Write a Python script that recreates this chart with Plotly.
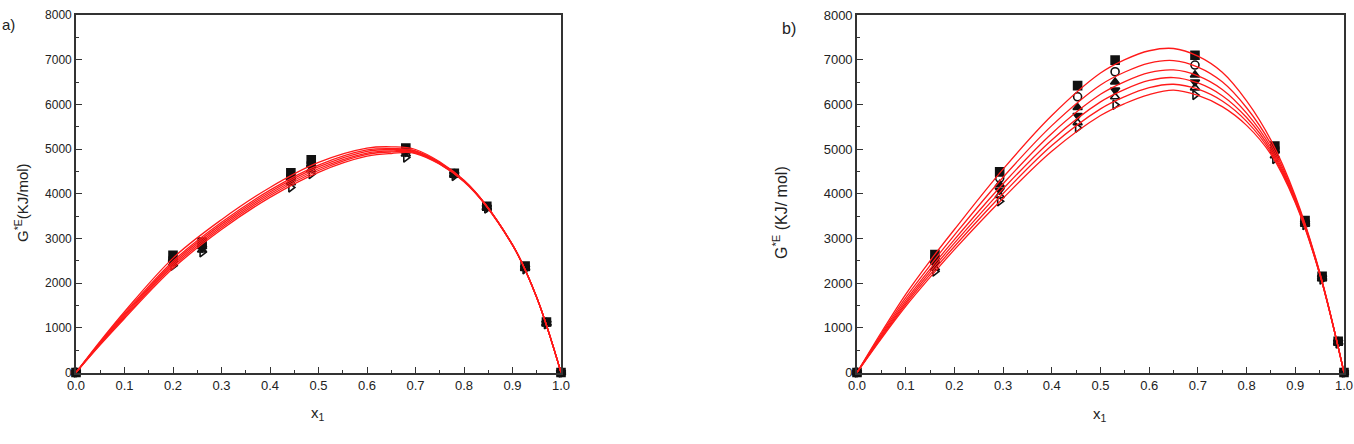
import plotly.graph_objects as go

# ---------------- data: panel a ----------------
a_pts_x = [0, 0.2, 0.26, 0.443, 0.485, 0.68, 0.78, 0.847, 0.926, 0.97, 1.0]
a_s1 = [0, 2620, 2920, 4470, 4760, 5020, 4460, 3720, 2380, 1130, 0]
a_s2 = [0, 2560, 2860, 4400, 4690, 4990, 4450, 3710, 2360, 1120, 0]
a_s3 = [0, 2520, 2820, 4350, 4640, 4960, 4440, 3700, 2350, 1110, 0]
a_s4 = [0, 2480, 2780, 4300, 4590, 4930, 4430, 3690, 2340, 1100, 0]
a_s5 = [0, 2440, 2740, 4250, 4540, 4890, 4420, 3680, 2330, 1090, 0]
a_s6 = [0, 2390, 2690, 4140, 4440, 4810, 4400, 3670, 2310, 1080, 0]

a_fit_x = [0, 0.05, 0.1, 0.2, 0.3, 0.4, 0.5, 0.6, 0.65, 0.7, 0.8, 0.9, 0.95, 1.0]
a_f1 = [0, 700, 1360, 2560, 3420, 4140, 4700, 5020, 5050, 4990, 4300, 2860, 1680, 0]
a_f2 = [0, 680, 1320, 2490, 3360, 4080, 4640, 4980, 5010, 4960, 4295, 2858, 1679, 0]
a_f3 = [0, 665, 1290, 2450, 3320, 4040, 4600, 4950, 4990, 4950, 4290, 2856, 1678, 0]
a_f4 = [0, 650, 1265, 2410, 3280, 4000, 4560, 4910, 4960, 4930, 4284, 2854, 1677, 0]
a_f5 = [0, 635, 1235, 2370, 3240, 3960, 4520, 4880, 4935, 4915, 4278, 2852, 1676, 0]
a_f6 = [0, 620, 1210, 2330, 3200, 3920, 4480, 4840, 4900, 4900, 4270, 2850, 1675, 0]

# ---------------- data: panel b ----------------
b_pts_x = [0, 0.16, 0.293, 0.453, 0.53, 0.694, 0.858, 0.92, 0.955, 0.988, 1.0]
b_s1 = [0, 2640, 4490, 6420, 6990, 7100, 5070, 3400, 2150, 700, 0]
b_s2 = [0, 2570, 4350, 6170, 6730, 6880, 5020, 3380, 2140, 690, 0]
b_s3 = [0, 2500, 4210, 5930, 6500, 6660, 4960, 3360, 2130, 680, 0]
b_s4 = [0, 2420, 4080, 5750, 6320, 6500, 4910, 3340, 2120, 675, 0]
b_s5 = [0, 2340, 3960, 5590, 6170, 6370, 4850, 3320, 2100, 665, 0]
b_s6 = [0, 2260, 3830, 5475, 5990, 6210, 4780, 3300, 2080, 650, 0]

b_fit_x = [0, 0.05, 0.1, 0.15, 0.2, 0.3, 0.4, 0.5, 0.55, 0.6, 0.65, 0.7, 0.75, 0.8, 0.85, 0.9, 0.95, 1.0]
b_f1 = [0, 900, 1750, 2500, 3200, 4550, 5750, 6700, 7000, 7200, 7250, 7080, 6720, 6080, 5200, 3950, 2250, 0]
b_f2 = [0, 860, 1675, 2395, 3075, 4370, 5525, 6435, 6725, 6925, 6980, 6835, 6505, 5925, 5110, 3910, 2235, 0]
b_f3 = [0, 830, 1615, 2315, 2975, 4225, 5350, 6225, 6510, 6710, 6770, 6640, 6335, 5805, 5040, 3875, 2225, 0]
b_f4 = [0, 805, 1565, 2250, 2895, 4110, 5205, 6055, 6335, 6535, 6600, 6480, 6195, 5705, 4980, 3850, 2215, 0]
b_f5 = [0, 780, 1525, 2190, 2820, 4005, 5080, 5900, 6175, 6375, 6450, 6340, 6075, 5620, 4930, 3825, 2210, 0]
b_f6 = [0, 760, 1480, 2130, 2750, 3900, 4950, 5750, 6020, 6220, 6320, 6200, 5950, 5530, 4880, 3800, 2200, 0]

symbols = ["square", "circle-open", "triangle-up", "triangle-down",
           "triangle-up-open", "triangle-right-open"]
x_ticks = [0.0, 0.1, 0.2, 0.3, 0.4, 0.5, 0.6, 0.7, 0.8, 0.9, 1.0]
x_tick_text = ["0.0", "0.1", "0.2", "0.3", "0.4", "0.5", "0.6", "0.7", "0.8", "0.9", "1.0"]
y_ticks = [0, 1000, 2000, 3000, 4000, 5000, 6000, 7000, 8000]

fig = go.Figure()

def add_panel(pts_x, series, fit_x, fits, xa, ya):
    for s, sym in zip(series, symbols):
        fig.add_trace(go.Scatter(
            x=pts_x, y=s, mode="markers", xaxis=xa, yaxis=ya, cliponaxis=False,
            marker=dict(symbol=sym, size=8, color="#111111",
                        line=dict(color="#111111", width=1.6)),
            showlegend=False))
    for f in fits:
        fig.add_trace(go.Scatter(
            x=fit_x, y=f, mode="lines", xaxis=xa, yaxis=ya,
            line=dict(color="#ff1a1a", width=1.3, shape="spline"),
            showlegend=False))

add_panel(a_pts_x, [a_s1, a_s2, a_s3, a_s4, a_s5, a_s6],
          a_fit_x, [a_f1, a_f2, a_f3, a_f4, a_f5, a_f6], "x", "y")
add_panel(b_pts_x, [b_s1, b_s2, b_s3, b_s4, b_s5, b_s6],
          b_fit_x, [b_f1, b_f2, b_f3, b_f4, b_f5, b_f6], "x2", "y2")

W, H = 1354, 444
ydom = [1 - 372.5 / H, 1 - 15 / H]
font = "Liberation Sans, Arial, sans-serif"

def xaxis(dom, anchor, fs):
    return dict(domain=dom, anchor=anchor, range=[0, 1.0], tickvals=x_ticks,
                ticktext=x_tick_text, ticks="inside", ticklen=6, tickwidth=1.3,
                tickcolor="#333", showline=True, linecolor="#333", linewidth=1.6,
                mirror=True, showgrid=False, zeroline=False, automargin=False,
                tickfont=dict(size=fs, color="#222", family=font),
                minor=dict(dtick=0.05, ticks="inside", ticklen=3, tickwidth=1.1,
                           tickcolor="#333", showgrid=False))

def yaxis(anchor, fs):
    return dict(domain=ydom, anchor=anchor, range=[0, 8000], tickvals=y_ticks,
                ticks="inside", ticklen=6, tickwidth=1.3, tickcolor="#333",
                showline=True, linecolor="#333", linewidth=1.6, mirror=True,
                showgrid=False, zeroline=False, automargin=False,
                tickfont=dict(size=fs, color="#222", family=font),
                minor=dict(dtick=500, ticks="inside", ticklen=3, tickwidth=1.1,
                           tickcolor="#333", showgrid=False))

def note(text, px, py, size, angle=0, xanchor="center"):
    return dict(text=text, x=px / W, y=1 - py / H, xref="paper", yref="paper",
                xanchor=xanchor, yanchor="middle", textangle=angle,
                showarrow=False, font=dict(size=size))

fig.update_layout(
    width=W, height=H, margin=dict(l=0, r=0, t=0, b=0, autoexpand=False),
    paper_bgcolor="white", plot_bgcolor="white",
    font=dict(family=font, color="#222"),
    xaxis=xaxis([76 / W, 561 / W], "y", 13),
    yaxis=yaxis("x", 12),
    xaxis2=xaxis([857 / W, 1344 / W], "y2", 13),
    yaxis2=yaxis("x2", 13),
    annotations=[
        note("G<sup>*E</sup>(KJ/mol)", 21, 203, 15, -90),
        note("G<sup>*E</sup> (KJ/ mol)", 780, 213, 16, -90),
        note("x<sub>1</sub>", 318, 413, 15),
        note("x<sub>1</sub>", 1100, 414, 15),
        note("a)", 0, 24, 15, xanchor="left"),
        note("b)", 789, 28, 16),
    ],
)

fig.write_html("out.html")
